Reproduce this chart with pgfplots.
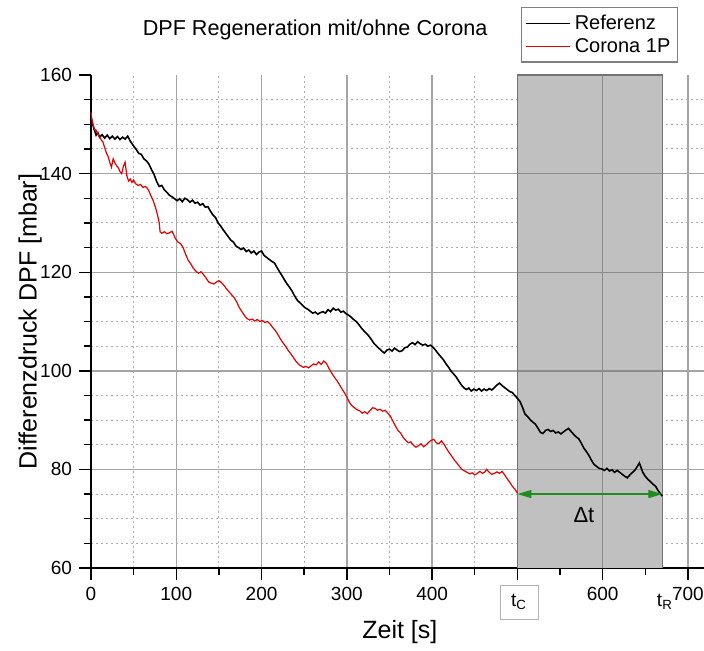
\documentclass[border=0pt]{standalone}
\usepackage{fontspec}
\setmainfont{Liberation Sans}
\usepackage{pgfplots}
\pgfplotsset{compat=1.18}
\usetikzlibrary{arrows.meta}
\definecolor{redline}{RGB}{228,0,0}
\definecolor{darrow}{RGB}{30,140,30}
\definecolor{regiongray}{RGB}{192,192,192}
\definecolor{majgrid}{RGB}{165,165,165}
\definecolor{mingrid}{RGB}{175,175,175}
\begin{document}
\begin{tikzpicture}
\begin{axis}[
  scale only axis, width=307pt, height=246.5pt,
  xmin=0, xmax=720, ymin=60, ymax=160,
  clip=false,
  axis x line*=bottom, axis y line*=left,
  axis line style={black, line width=0.8pt, -},
  xtick={0,100,...,700}, xticklabels={0,100,200,300,400,,600,700},
  minor xtick={50,150,...,650},
  ytick={60,80,100,120,140}, extra y ticks={160}, extra y tick style={grid=none},
  minor ytick={65,70,75,85,90,95,105,110,115,125,130,135,145,150,155},
  grid=both,
  major grid style={majgrid, line width=0.7pt},
  minor grid style={mingrid, line width=0.5pt, dash pattern=on 1.2pt off 1.3pt},
  tick align=outside, major tick length=6pt, minor tick length=3.5pt,
  tick style={black, line width=0.7pt},
  ticklabel style={font=\fontsize{9.5}{11}\selectfont},
  /pgf/number format/assume math mode=true,
  xlabel={Zeit [s]}, ylabel={Differenzdruck DPF [mbar]},
  label style={font=\fontsize{12.5}{14}\selectfont},
  xlabel style={at={(axis description cs:0.503,-0.13)}, anchor=center},
  ylabel style={at={(axis description cs:-0.099,0.5)}, anchor=center},
  legend style={at={(0.956,1.138)}, anchor=north east, draw=gray, line width=0.6pt,
    font=\fontsize{10}{11}\selectfont, inner sep=1.5pt, row sep=-1pt},
  legend cell align=left,
  legend image code/.code={\draw[#1] (0cm,0cm) -- (0.78cm,0cm);},
]
% shaded region
\fill[regiongray] (axis cs:500,60) rectangle (axis cs:670,160);
\draw[majgrid!85!black, line width=0.7pt] (axis cs:600,60) -- (axis cs:600,160);
\foreach \yy in {80,100,120,140} {
  \edef\tmp{\noexpand\draw[majgrid!85!black, line width=0.7pt] (axis cs:500,\yy) -- (axis cs:670,\yy);}\tmp
}
\draw[gray!90!black, line width=0.7pt] (axis cs:500,60) -- (axis cs:500,160) -- (axis cs:670,160) -- (axis cs:670,60);

\addplot[black, line width=0.8pt] coordinates {
(0,151.5) (2,150) (4,148.8) (6,147.8) (8,148.3) (10,147.4) (13,147.9) (16,147.2) (19,147.8) (22,147.1)
(25,147.6) (28,147.0) (31,147.5) (34,146.9) (37,147.4) (40,147.0) (43,147.6) (46,146.6) (50,145.6) (53,144.9)
(56,144.1) (59,143.9) (62,143.0) (65,142.6) (68,141.9) (71,140.8) (74,139.8) (77,138.4) (80,137.4) (83,137.6)
(86,136.7) (89,136.2) (92,135.6) (95,135.3) (98,134.9) (101,134.5) (104,134.9) (107,134.3) (110,135.0) (113,134.7)
(116,134.2) (119,134.6) (122,134.0) (125,134.2) (128,133.6) (131,133.9) (134,133.2) (137,133.3) (140,132.4) (143,131.6)
(146,131.1) (149,130.0) (152,129.4) (155,128.6) (158,127.9) (161,127.2) (164,126.5) (167,126.1) (170,125.3) (173,125.0)
(176,124.6) (179,124.9) (182,124.2) (185,124.5) (188,123.9) (191,124.3) (194,123.6) (197,124.1) (200,124.3) (203,123.4)
(206,123.0) (209,122.6) (212,122.2) (215,121.9) (218,121.0) (221,120.1) (224,119.3) (227,118.4) (230,117.6) (233,116.9)
(236,116.1) (239,115.1) (242,114.3) (245,113.8) (248,113.3) (251,112.8) (254,112.5) (257,112.1) (260,111.7) (263,111.9)
(266,111.5) (269,111.8) (272,112.0) (275,111.7) (278,112.4) (281,112.0) (284,112.7) (287,112.3) (290,112.5) (293,111.9)
(296,112.1) (299,111.6) (302,111.3) (305,110.9) (308,110.4) (311,110.0) (314,109.4) (317,108.7) (320,108.1) (323,107.6)
(326,107.0) (329,106.3) (332,105.5) (335,105.0) (338,104.5) (341,104.0) (344,103.6) (347,104.2) (350,104.4) (353,104.0)
(356,104.6) (359,104.2) (362,103.9) (365,104.1) (368,104.7) (371,104.8) (374,105.4) (377,105.7) (380,105.3) (383,105.9)
(386,105.5) (389,105.2) (392,105.4) (395,105.0) (398,105.2) (401,104.8) (404,104.2) (407,103.5) (410,102.9) (413,102.3)
(416,101.5) (419,100.8) (422,100.0) (425,99.4) (428,98.8) (431,98.0) (434,97.2) (437,96.6) (440,96.2) (443,96.5)
(446,95.9) (449,96.3) (452,96.0) (455,96.4) (458,95.9) (461,96.3) (464,96.0) (467,96.4) (470,96.1) (473,96.6)
(476,97.1) (479,97.5) (482,97.0) (485,96.6) (488,96.2) (491,95.8) (494,95.6) (497,95.0) (500,94.4) (503,93.8)
(506,92.6) (509,91.2) (512,90.7) (515,90.1) (518,89.6) (521,89.2) (524,88.4) (527,87.5) (530,87.3) (533,87.9)
(536,88.1) (539,87.7) (542,87.9) (545,87.4) (548,87.6) (551,87.2) (554,87.6) (557,88.0) (560,88.3) (563,87.7)
(566,87.1) (569,86.6) (572,86.2) (575,85.3) (578,84.3) (581,83.6) (584,82.8) (587,81.8) (590,81.0) (593,80.6)
(596,80.2) (599,80.1) (602,79.8) (605,80.2) (608,79.7) (611,79.9) (614,79.4) (617,79.8) (620,79.4) (623,79.0)
(626,78.6) (629,78.3) (632,78.9) (635,79.4) (638,79.9) (641,80.7) (643,81.3) (645,80.4) (647,79.4) (650,78.6)
(653,78.0) (656,77.5) (659,77.0) (662,76.6) (665,75.7) (668,75.0) (670,74.6)
};
\addlegendentry{Referenz}
\addplot[redline, line width=0.6pt] coordinates {
(0,152.5) (1,151) (2,150.2) (4,149.0) (6,148.8) (8,148.0) (10,147.5) (12,146.8) (14,146.4) (16,145.3)
(18,144.2) (20,143.5) (22,142.3) (24,141.3) (26,143.0) (28,142.2) (30,141.6) (32,141.2) (34,140.4) (36,140.0)
(38,141.5) (40,142.3) (42,139.6) (44,138.5) (46,138.9) (48,138.2) (50,138.7) (52,138.0) (55,137.6) (58,137.8)
(61,137.2) (64,137.4) (67,136.8) (70,135.6) (73,134.5) (76,132.9) (78,131.6) (80,130.0) (81,128.2) (83,127.9)
(86,128.2) (89,127.8) (92,128.0) (95,128.3) (97,127.6) (99,126.8) (102,126.1) (105,125.8) (108,125.0) (111,123.6)
(114,122.4) (117,121.7) (120,120.8) (123,120.2) (126,119.8) (129,120.1) (132,119.5) (135,118.8) (138,118.0) (141,117.8)
(144,117.6) (147,118.0) (150,118.3) (153,117.9) (156,117.3) (159,116.6) (162,116.0) (165,115.4) (168,114.8) (171,113.9)
(174,112.8) (177,112.0) (180,111.2) (183,110.6) (186,110.3) (189,110.5) (192,110.1) (195,110.4) (198,110.0) (201,110.2)
(204,109.8) (207,110.0) (210,109.5) (213,108.8) (216,108.2) (219,107.4) (222,106.5) (225,105.7) (228,105.0) (231,104.2)
(234,103.5) (237,102.8) (240,102.0) (243,101.4) (246,101.0) (249,100.7) (252,100.9) (255,100.6) (258,101.0) (261,101.4)
(264,101.2) (267,101.8) (270,101.3) (273,102.0) (276,101.5) (279,100.5) (282,99.6) (285,98.8) (288,98.1) (291,97.3)
(294,96.4) (297,95.6) (300,94.7) (303,93.6) (306,92.9) (309,92.5) (312,92.1) (315,91.9) (318,91.4) (321,91.7)
(324,91.3) (327,91.9) (330,92.5) (333,92.4) (336,92.0) (339,92.2) (342,91.8) (345,92.0) (348,91.4) (351,90.8)
(354,89.8) (357,88.8) (360,87.9) (363,87.4) (366,86.5) (369,85.9) (372,85.4) (375,85.6) (378,84.9) (381,84.5)
(384,84.8) (387,85.2) (390,84.6) (393,85.0) (396,85.5) (399,85.9) (402,86.1) (405,85.4) (408,85.2) (411,85.8)
(414,85.1) (417,84.2) (420,83.4) (423,82.7) (426,81.9) (429,81.3) (432,80.6) (435,80.0) (438,79.7) (441,79.4)
(444,79.1) (447,79.3) (450,78.9) (453,79.2) (456,79.6) (459,79.2) (462,79.5) (464,80.0) (467,79.4) (470,79.0)
(473,79.2) (476,79.5) (479,79.2) (482,79.6) (485,78.9) (488,78.1) (491,77.4) (494,76.6) (497,76.0) (500,75.2)
};
\addlegendentry{Corona 1P}

% annotations
\draw[darrow, line width=0.6pt, {Triangle[length=7pt,width=4pt]}-{Triangle[length=7pt,width=4pt]}]
  (axis cs:500,75) -- (axis cs:670,75);
\node[font=\fontsize{11}{12}\selectfont] at (axis cs:578,70.8) {Δt};
\node[draw=gray!60, line width=0.5pt, minimum width=19pt, minimum height=17pt, inner sep=0pt,
  font=\fontsize{9.5}{11}\selectfont] at ([yshift=-17pt]axis cs:502,60) {t\textsubscript{C}};
\node[font=\fontsize{9.5}{11}\selectfont, inner sep=0pt] at ([yshift=-17pt]axis cs:673,60) {t\textsubscript{R}};
\node[font=\fontsize{10.8}{12}\selectfont] at (axis description cs:0.365,1.091) {DPF Regeneration mit/ohne Corona};
\end{axis}
\pgfresetboundingbox
\path[use as bounding box] (-45.5pt,-41pt) rectangle (306.5pt,284pt);
\end{tikzpicture}
\end{document}
